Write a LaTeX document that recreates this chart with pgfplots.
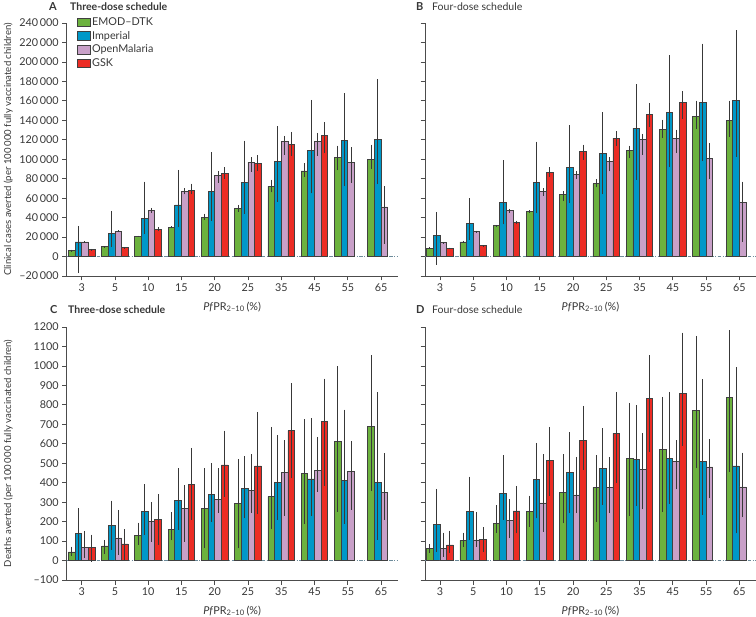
\documentclass[border=0pt]{standalone}
\usepackage{fontspec}
\setmainfont{Lato}
\usepackage{pgfplots}
\usepackage{pgfplotstable}
\pgfplotsset{compat=1.18}
\definecolor{cgreen}{RGB}{108,178,62}
\definecolor{cblue}{RGB}{0,152,200}
\definecolor{cpurple}{RGB}{200,160,200}
\definecolor{cred}{RGB}{236,44,36}
\definecolor{ctext}{RGB}{55,55,55}
\definecolor{czero}{RGB}{110,140,155}

% ---------------- Panel A: clinical cases, three-dose
\pgfplotstableread{
x y lo hi
0 6000 5000 7000
1 10000 9000 10500
2 21000 20500 21500
3 30000 29000 31000
4 40500 38000 44000
5 49500 46000 53000
6 72000 66000 79000
7 88000 81500 96000
8 102000 88500 114000
9 99500 90000 115000
}\Aemod
\pgfplotstableread{
x y lo hi
0 15000 -17000 31500
1 24000 10000 47000
2 39500 23000 77000
3 53000 30000 89000
4 66500 37000 107000
5 76000 44000 119000
6 97500 56500 134000
7 109000 65000 161000
8 119000 72000 168000
9 120500 74500 182000
}\Aimp
\pgfplotstableread{
x y lo hi
0 15000 14000 16000
1 26000 25000 27000
2 47500 45000 50000
3 67000 64000 70000
4 83500 76000 88000
5 97000 87000 102000
6 118500 104500 124000
7 118500 103500 127000
8 96500 76000 112500
9 51000 13000 72000
}\Aom
\pgfplotstableread{
x y lo hi
0 7000 6000 8000
1 9000 8000 9500
2 28000 26000 30000
3 68000 64000 75000
4 85500 80000 92000
5 96000 88000 104000
6 115000 103500 128000
7 124000 106000 138000
}\Agsk
% ---------------- Panel B: clinical cases, four-dose
\pgfplotstableread{
x y lo hi
0 8600 8000 9500
1 15000 14000 16000
2 31600 31000 32500
3 46300 45000 47500
4 64000 57000 67000
5 74800 71000 79500
6 108700 101000 114000
7 130300 121700 140600
8 144000 131000 160300
9 140000 122800 160300
}\Bemod
\pgfplotstableread{
x y lo hi
0 21600 -8500 46000
1 34000 17000 60000
2 56000 33000 98700
3 76500 44600 118000
4 92000 55000 134700
5 105800 64000 148500
6 132000 78800 177000
7 148400 91900 207000
8 158400 98000 218800
9 160400 102800 232400
}\Bimp
\pgfplotstableread{
x y lo hi
0 14400 13500 15000
1 25700 24500 26500
2 47300 45000 49000
3 67000 62000 70000
4 84000 80000 88000
5 97700 87400 101800
6 120000 104600 126000
7 121700 106400 130300
8 100800 79600 116600
9 56000 15400 77000
}\Bom
\pgfplotstableread{
x y lo hi
0 8600 8000 9200
1 11000 10500 11500
2 35300 33000 37000
3 86400 82000 92000
4 108000 99500 115000
5 121700 113800 129000
6 146000 133000 158000
7 158700 141700 170000
}\Bgsk
% ---------------- Panel C: deaths, three-dose
\pgfplotstableread{
x y lo hi
0 44 24 72
1 75 34 106
2 130 80 195
3 161 103 248
4 268 63 473
5 294 63 520
6 328 161 687
7 448 187 727
8 612 251 998
9 687 359 1054
}\Cemod
\pgfplotstableread{
x y lo hi
0 137 3 268
1 181 55 308
2 253 132 393
3 308 157 473
4 338 200 499
5 369 217 537
6 402 209 645
7 419 229 730
8 410 188 776
9 400 106 864
}\Cimp
\pgfplotstableread{
x y lo hi
0 68 12 152
1 116 29 260
2 203 97 299
3 268 97 388
4 315 246 473
5 359 243 545
6 451 229 619
7 463 354 636
8 458 260 614
9 352 209 551
}\Com
\pgfplotstableread{
x y lo hi
0 65 -5 133
1 85 3 160
2 212 80 340
3 393 209 579
4 491 328 667
5 486 239 764
6 667 422 910
7 716 383 935
}\Cgsk
% ---------------- Panel D: deaths, four-dose
\pgfplotstableread{
x y lo hi
0 62 38 84
1 104 72 144
2 191 144 285
3 251 174 333
4 350 191 547
5 376 200 542
6 525 229 810
7 573 251 841
8 771 474 1154
9 840 456 1183
}\Demod
\pgfplotstableread{
x y lo hi
0 185 46 368
1 251 106 431
2 345 209 542
3 417 217 605
4 453 243 658
5 472 286 680
6 521 280 798
7 525 291 867
8 510 236 932
9 486 140 992
}\Dimp
\pgfplotstableread{
x y lo hi
0 62 20 144
1 106 72 248
2 207 115 315
3 296 149 547
4 337 243 533
5 376 243 530
6 468 263 653
7 508 366 619
8 481 320 622
9 378 222 554
}\Dom
\pgfplotstableread{
x y lo hi
0 80 38 154
1 109 46 171
2 255 140 383
3 513 333 687
4 619 465 795
5 653 400 867
6 833 559 1055
7 858 590 1171
}\Dgsk

\pgfplotsset{
  panel/.style={
    scale only axis, width=331pt, height=253pt,
    xmin=-0.45, xmax=9.5,
    axis lines=left,
    axis line style={-, draw=black!70, line width=0.8pt},
    xtick={0,...,9}, xticklabels={3,5,10,15,20,25,35,45,55,65},
    scaled y ticks=false,
    tick align=outside, major tick length=4.5pt,
    tick style={draw=black!70, line width=0.8pt},
    ticklabel style={font=\fontsize{10.8}{12}\selectfont, text=ctext},
    ybar=0pt, bar width=0.2,
    extra y ticks={0}, extra y tick labels={},
    extra y tick style={grid=major, major tick length=0pt,
      major grid style={czero, line width=1pt, dash pattern=on 3.5pt off 1.5pt on 1pt off 1.5pt}},
    every axis y label/.style={at={(axis description cs:-0.177,0.5)}, rotate=90, anchor=center,
      font=\fontsize{9.6}{11}\selectfont, text=ctext},
    every axis x label/.style={at={(axis description cs:0.5,-0.122)}, anchor=center,
      font=\fontsize{10.8}{12}\selectfont, text=ctext},
    xlabel={\textit{Pf}PR\textsubscript{2–10}\,(\%)},
    clip=false,
  },
  casesy/.style={ymin=-20000, ymax=240000, ytick={-20000,0,20000,40000,60000,80000,100000,120000,140000,160000,180000,200000,220000,240000}},
  deathsy/.style={ymin=-100, ymax=1200, ytick={-100,0,100,...,1200}},
  errs/.style={error bars/.cd, y dir=both, y explicit, error mark=none,
    error bar style={black!78, line width=1pt}},
}
\newcommand{\bars}[3]{\addplot[fill=#1, draw=black!75, line width=0.8pt, bar shift=#2, errs]
  table[x=x, y=y, y error plus expr=\thisrow{hi}-\thisrow{y}, y error minus expr=\thisrow{y}-\thisrow{lo}] {#3};}

\begin{document}
\begin{tikzpicture}
\useasboundingbox (0pt,0pt) rectangle (756pt,-617pt);

% ---------- A
\begin{axis}[panel, casesy, at={(66.7pt,-276pt)}, anchor=south west,
  yticklabels={–20\,000,0,20\,000,40\,000,60\,000,80\,000,100\,000,120\,000,140\,000,160\,000,180\,000,200\,000,220\,000,240\,000},
  ylabel={Clinical cases averted (per 100\,000 fully vaccinated children)},
  legend style={at={(axis description cs:0.03,1.027)}, anchor=north west, draw=none, fill=none,
    inner sep=0pt, row sep=1.2pt, font=\fontsize{10.8}{12}\selectfont, text=ctext,
    nodes={text height=7.5pt, text depth=2pt, inner sep=1.5pt}},
  legend cell align=left,
  legend image code/.code={\draw[#1, line width=0.8pt, draw=black!75] (0pt,-4pt) rectangle (13pt,4.5pt);},
]
\bars{cgreen}{-0.3}{\Aemod}
\addlegendentry{EMOD–DTK}
\bars{cblue}{-0.1}{\Aimp}
\addlegendentry{Imperial}
\bars{cpurple}{0.1}{\Aom}
\addlegendentry{OpenMalaria}
\bars{cred}{0.3}{\Agsk}
\addlegendentry{GSK}
\end{axis}

% ---------- B
\begin{axis}[panel, casesy, at={(425pt,-276pt)}, anchor=south west, yticklabels={}]
\bars{cgreen}{-0.3}{\Bemod}
\bars{cblue}{-0.1}{\Bimp}
\bars{cpurple}{0.1}{\Bom}
\bars{cred}{0.3}{\Bgsk}
\end{axis}

% ---------- C
\begin{axis}[panel, deathsy, at={(66.7pt,-580pt)}, anchor=south west,
  yticklabels={–100,0,100,200,300,400,500,600,700,800,900,1000,1100,1200},
  ylabel={Deaths averted (per 100\,000 fully vaccinated children)},
]
\bars{cgreen}{-0.3}{\Cemod}
\bars{cblue}{-0.1}{\Cimp}
\bars{cpurple}{0.1}{\Com}
\bars{cred}{0.3}{\Cgsk}
\end{axis}

% ---------- D
\begin{axis}[panel, deathsy, at={(425pt,-580pt)}, anchor=south west, yticklabels={}]
\bars{cgreen}{-0.3}{\Demod}
\bars{cblue}{-0.1}{\Dimp}
\bars{cpurple}{0.1}{\Dom}
\bars{cred}{0.3}{\Dgsk}
\end{axis}

% ---------- panel titles
\node[anchor=west, inner sep=0pt, text=ctext, font=\fontsize{11}{12}\selectfont\bfseries] at (49pt,-7pt) {A};
\node[anchor=west, inner sep=0pt, text=ctext, font=\fontsize{10.5}{12}\selectfont\bfseries] at (70pt,-7pt) {Three-dose schedule};
\node[anchor=west, inner sep=0pt, text=ctext, font=\fontsize{11}{12}\selectfont\bfseries] at (416pt,-7pt) {B};
\node[anchor=west, inner sep=0pt, text=ctext, font=\fontsize{10.5}{12}\selectfont] at (432pt,-7pt) {Four-dose schedule};
\node[anchor=west, inner sep=0pt, text=ctext, font=\fontsize{11}{12}\selectfont\bfseries] at (50pt,-310pt) {C};
\node[anchor=west, inner sep=0pt, text=ctext, font=\fontsize{10.5}{12}\selectfont\bfseries] at (68pt,-310pt) {Three-dose schedule};
\node[anchor=west, inner sep=0pt, text=ctext, font=\fontsize{11}{12}\selectfont\bfseries] at (416pt,-310pt) {D};
\node[anchor=west, inner sep=0pt, text=ctext, font=\fontsize{10.5}{12}\selectfont] at (432pt,-310pt) {Four-dose schedule};
\end{tikzpicture}
\end{document}
